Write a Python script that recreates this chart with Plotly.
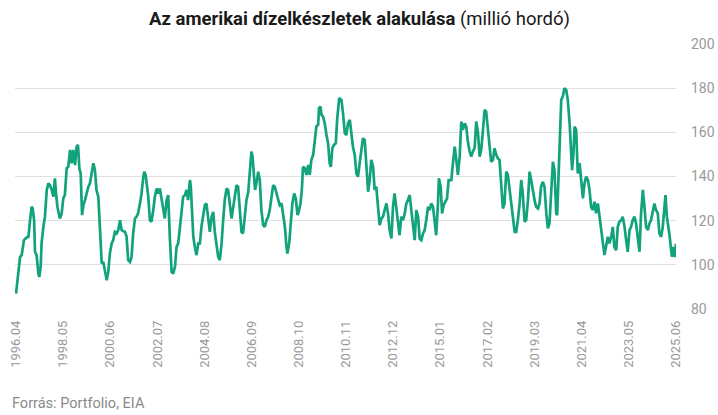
import plotly.graph_objects as go
import numpy as np

# Decimal-year time stamps and diesel stocks (million barrels)
years = [
    1996.26, 1996.36, 1996.44, 1996.51, 1996.61, 1996.73, 1996.81, 1996.88, 1996.95, 1997.00,
    1997.06, 1997.10, 1997.17, 1997.25, 1997.29, 1997.35, 1997.39, 1997.47, 1997.54, 1997.62,
    1997.69, 1997.76, 1997.84, 1997.91, 1997.98, 1998.03, 1998.09, 1998.20, 1998.28, 1998.35,
    1998.42, 1998.50, 1998.57, 1998.65, 1998.72, 1998.79, 1998.87, 1998.94, 1999.00, 1999.06,
    1999.12, 1999.18, 1999.24, 1999.31, 1999.38, 1999.46, 1999.53, 1999.60, 1999.68, 1999.75,
    1999.82, 1999.90, 1999.97, 2000.05, 2000.12, 2000.19, 2000.27, 2000.34, 2000.41, 2000.49,
    2000.56, 2000.63, 2000.71, 2000.78,
    2000.86, 2000.93, 2001.08, 2001.15, 2001.22, 2001.30, 2001.37, 2001.44, 2001.52, 2001.59,
    2001.66, 2001.74, 2001.81, 2001.89, 2001.93, 2001.99, 2002.03, 2002.11, 2002.18, 2002.25,
    2002.33, 2002.40, 2002.48, 2002.55, 2002.62, 2002.70, 2002.77, 2002.84, 2002.92, 2002.99,
    2003.06, 2003.14, 2003.21, 2003.29, 2003.36, 2003.43, 2003.51, 2003.58, 2003.65, 2003.73,
    2003.80, 2003.87, 2003.95, 2003.99, 2004.04, 2004.10, 2004.17, 2004.24, 2004.32, 2004.39,
    2004.46, 2004.54, 2004.61, 2004.68, 2004.76, 2004.83, 2004.91, 2004.98, 2005.05, 2005.13,
    2005.20, 2005.27, 2005.35, 2005.42, 2005.49, 2005.57, 2005.64,
    2005.79, 2005.86, 2005.94, 2006.01, 2006.08, 2006.16, 2006.23, 2006.30, 2006.38, 2006.45,
    2006.53, 2006.60, 2006.67, 2006.72, 2006.78, 2006.83, 2006.89, 2006.97, 2007.04, 2007.11,
    2007.19, 2007.26, 2007.34, 2007.41, 2007.48, 2007.56, 2007.63, 2007.70, 2007.78, 2007.85,
    2007.92, 2008.00, 2008.07, 2008.15, 2008.22, 2008.26, 2008.34, 2008.41, 2008.48, 2008.56,
    2008.63, 2008.71, 2008.76, 2008.84, 2008.90, 2008.95, 2009.03, 2009.10, 2009.18, 2009.25,
    2009.32, 2009.40, 2009.47, 2009.54, 2009.62, 2009.66, 2009.72, 2009.77, 2009.84, 2009.91,
    2009.99, 2010.06, 2010.13, 2010.18, 2010.25, 2010.32, 2010.40, 2010.46, 2010.55,
    2010.65, 2010.72, 2010.80, 2010.87, 2010.94, 2011.02, 2011.09, 2011.16, 2011.24, 2011.31,
    2011.38, 2011.46, 2011.53, 2011.60, 2011.68, 2011.75, 2011.83, 2011.90, 2011.97, 2012.05,
    2012.12, 2012.19, 2012.27, 2012.34, 2012.42, 2012.49, 2012.56, 2012.64, 2012.71, 2012.78,
    2012.86, 2012.93, 2013.00, 2013.08, 2013.15, 2013.22, 2013.30, 2013.37, 2013.45, 2013.52,
    2013.59, 2013.67, 2013.74, 2013.81, 2013.89, 2013.96, 2014.04, 2014.11, 2014.18, 2014.26,
    2014.33, 2014.40, 2014.48, 2014.55, 2014.62, 2014.70, 2014.77, 2014.84, 2014.92, 2014.96,
    2015.04, 2015.10, 2015.17, 2015.24, 2015.32, 2015.39,
    2015.51, 2015.58, 2015.66, 2015.73, 2015.80, 2015.88, 2015.95, 2016.02, 2016.10, 2016.17,
    2016.24, 2016.32, 2016.39, 2016.46, 2016.54, 2016.61, 2016.69, 2016.76, 2016.83, 2016.91,
    2016.98, 2017.05, 2017.13, 2017.20, 2017.27, 2017.35, 2017.42, 2017.50, 2017.57, 2017.64,
    2017.72, 2017.79, 2017.86, 2017.94, 2018.01, 2018.08, 2018.16, 2018.23, 2018.31, 2018.38,
    2018.45, 2018.53, 2018.60, 2018.67, 2018.75, 2018.82, 2018.90, 2018.97, 2019.04, 2019.12,
    2019.19, 2019.26, 2019.34, 2019.41, 2019.48, 2019.56, 2019.63, 2019.71, 2019.78, 2019.85,
    2019.93, 2020.00, 2020.07, 2020.15, 2020.19, 2020.25, 2020.29, 2020.37, 2020.44,
    2020.51, 2020.59, 2020.66, 2020.74, 2020.81, 2020.85, 2020.91, 2020.96, 2021.03, 2021.10,
    2021.18, 2021.25, 2021.33, 2021.40, 2021.47, 2021.55, 2021.62, 2021.69, 2021.77, 2021.84,
    2021.91, 2021.99, 2022.06, 2022.14, 2022.21, 2022.28, 2022.36, 2022.43, 2022.50, 2022.58,
    2022.65, 2022.72, 2022.80, 2022.87, 2022.94, 2023.02, 2023.09, 2023.17, 2023.24, 2023.31,
    2023.39, 2023.46, 2023.53, 2023.61, 2023.68, 2023.75, 2023.83, 2023.90, 2023.98, 2024.05,
    2024.12, 2024.20, 2024.27, 2024.34, 2024.42, 2024.49, 2024.56, 2024.64, 2024.71, 2024.79,
    2024.86, 2024.93, 2024.98, 2025.04, 2025.09, 2025.15, 2025.23, 2025.27, 2025.33, 2025.37,
    2025.40, 2025.44,
]

stocks = [
    87.0, 96.0, 103.6, 104.4, 111.2, 112.4, 112.7, 120.2, 126.3, 125.5,
    120.2, 105.9, 104.4, 96.0, 94.5, 99.1, 109.7, 117.2, 121.8, 133.9,
    136.9, 136.1, 133.9, 130.8, 139.2, 132.4, 126.3, 121.0, 123.3, 130.1,
    131.6, 143.7, 144.4, 152.0, 146.0, 152.0, 145.2, 153.5, 154.3, 143.7,
    141.4, 122.5, 127.0, 129.3, 132.3, 135.4, 136.9, 141.4, 146.0, 142.9,
    133.9, 130.8, 118.7, 100.6, 101.3, 97.5, 93.0, 96.8, 105.1, 109.7,
    111.2, 114.9, 114.2, 115.7,
    120.2, 115.7, 114.9, 112.7, 102.1, 101.3, 103.6, 114.2, 121.0, 121.8,
    123.3, 127.8, 132.3, 139.9, 142.2, 140.7, 136.9, 130.8, 120.2, 119.5,
    124.8, 130.8, 134.6, 132.3, 134.6, 129.3, 124.8, 121.0, 129.3, 131.6,
    112.7, 96.8, 96.0, 99.1, 108.1, 109.7, 117.2, 124.8, 130.8, 131.6,
    133.9, 129.3, 138.4, 135.4, 123.3, 112.7, 108.1, 104.4, 109.7, 109.7,
    117.2, 123.3, 127.0, 127.8, 120.2, 114.9, 121.8, 124.0, 114.9, 108.1,
    103.6, 102.1, 109.7, 120.2, 129.3, 134.6, 133.9,
    121.0, 126.3, 132.3, 136.1, 135.4, 124.8, 114.9, 114.2, 123.3, 129.3,
    133.1, 141.4, 151.3, 149.0, 138.4, 133.9, 136.9, 142.2, 138.4, 124.8,
    118.0, 117.2, 120.2, 121.8, 124.8, 130.8, 136.1, 135.4, 132.3, 130.8,
    127.0, 127.8, 123.3, 117.2, 108.1, 105.1, 109.7, 118.7, 127.8, 132.3,
    130.1, 122.5, 124.0, 127.8, 133.9, 144.4, 143.7, 140.7, 145.2, 140.7,
    147.5, 149.7, 157.3, 162.6, 163.4, 170.9, 171.7, 167.9, 167.1, 164.1,
    158.8, 155.0, 146.0, 144.4, 152.8, 154.3, 155.0, 165.6, 175.5,
    174.7, 168.7, 159.6, 158.8, 164.1, 165.6, 159.6, 153.5, 149.7, 141.4,
    139.9, 146.0, 152.8, 157.3, 156.5, 144.4, 133.1, 138.4, 147.5, 144.4,
    133.9, 135.4, 126.3, 118.0, 121.0, 121.8, 124.8, 127.8, 123.3, 115.7,
    111.9, 126.3, 132.3, 126.3, 118.7, 113.4, 121.8, 120.2, 123.3, 127.8,
    129.3, 131.6, 124.8, 118.7, 111.2, 124.8, 121.8, 111.9, 111.2, 114.2,
    115.7, 120.2, 126.3, 124.8, 127.8, 126.3, 118.7, 113.4, 127.8, 139.2,
    135.4, 123.3, 127.0, 128.6, 130.1, 138.4,
    138.4, 146.0, 153.5, 147.5, 140.7, 149.0, 164.9, 161.1, 164.1, 162.6,
    155.8, 151.3, 149.0, 151.3, 152.8, 164.9, 159.6, 149.0, 152.0, 161.1,
    170.2, 169.4, 161.1, 150.5, 146.7, 147.5, 152.8, 149.7, 148.2, 147.5,
    135.4, 125.5, 127.8, 142.2, 140.7, 135.4, 127.8, 121.8, 114.9, 114.9,
    120.2, 127.8, 138.4, 132.3, 119.5, 120.2, 129.3, 142.2, 138.4, 132.3,
    129.3, 126.3, 125.5, 127.8, 135.4, 137.6, 135.4, 123.3, 116.5, 118.7,
    136.9, 146.7, 142.9, 123.3, 122.5, 139.9, 161.1, 174.7, 176.2,
    180.0, 179.2, 174.7, 164.1, 147.5, 142.9, 150.5, 162.6, 161.1, 141.4,
    146.0, 139.9, 130.1, 136.9, 139.9, 138.4, 133.9, 126.3, 124.8, 128.6,
    123.3, 127.8, 121.8, 114.2, 109.7, 104.4, 108.9, 112.7, 109.7, 112.7,
    117.2, 108.1, 106.6, 117.2, 119.5, 120.2, 121.8, 117.2, 111.2, 105.9,
    115.7, 117.2, 120.2, 121.8, 118.7, 111.2, 105.9, 123.3, 133.9, 126.3,
    117.2, 115.7, 118.7, 120.2, 124.8, 127.8, 124.8, 123.3, 114.2, 112.7,
    117.2, 126.3, 131.6, 121.8, 118.7, 114.2, 106.6, 103.6, 108.1, 104.0,
    103.5, 109.5,
]

tick_labels = ["1996.04", "1998.05", "2000.06", "2002.07", "2004.08", "2006.09", "2008.10",
               "2010.11", "2012.12", "2015.01", "2017.02", "2019.03", "2021.04", "2023.05",
               "2025.06"]
y_ticks = [80, 100, 120, 140, 160, 180, 200]

tick_pos = np.linspace(years[0], years[-1], len(tick_labels))

W, H = 718, 415
ML, MR, MT, MB = 15, 42, 44, 106
plot_w = W - ML - MR
plot_h = H - MT - MB

fig = go.Figure()
fig.add_trace(go.Scatter(
    x=years, y=stocks, mode="lines",
    line=dict(color="#12a27c", width=2.7, shape="linear"),
    hoverinfo="skip", showlegend=False,
))

fig.update_layout(
    width=W, height=H,
    margin=dict(l=ML, r=MR, t=MT, b=MB, pad=0, autoexpand=False),
    paper_bgcolor="white", plot_bgcolor="white",
    font=dict(family="Roboto", color="#999999"),
    hovermode=False,
    title=dict(
        text="<b>Az amerikai dízelkészletek alakulása</b> (millió hordó)",
        x=359.5 / W, xanchor="center", y=1 - 18.5 / H, yanchor="middle",
        font=dict(family="Roboto", size=18.5, color="#1a1a1a"),
    ),
    xaxis=dict(
        range=[years[0] - 0.045, years[-1] + 0.005],
        tickmode="array", tickvals=tick_pos, ticktext=tick_labels,
        tickangle=-90, tickfont=dict(size=13, color="#999999"),
        showgrid=False, zeroline=False, showline=False, ticks="",
        ticklabelstandoff=8, automargin=False,
    ),
    yaxis=dict(
        range=[80, 200], side="right",
        tickmode="array", tickvals=y_ticks,
        tickfont=dict(size=14, color="#999999"),
        showgrid=True, gridcolor="#e0e0e0", gridwidth=1,
        zeroline=False, showline=False, ticks="",
        ticklabelstandoff=14, automargin=False,
    ),
    annotations=[dict(
        text="Forrás: Portfolio, EIA",
        x=(10 - ML) / plot_w, y=-(403 - (H - MB)) / plot_h,
        xref="paper", yref="paper", xanchor="left", yanchor="middle",
        showarrow=False,
        font=dict(family="Roboto", size=14.5, color="#8a8a8a"),
    )],
)

fig.write_html(
    "out.html",
    config={"displayModeBar": False, "staticPlot": True},
    post_script="document.body.style.margin='0px';document.body.style.overflow='hidden';",
)
